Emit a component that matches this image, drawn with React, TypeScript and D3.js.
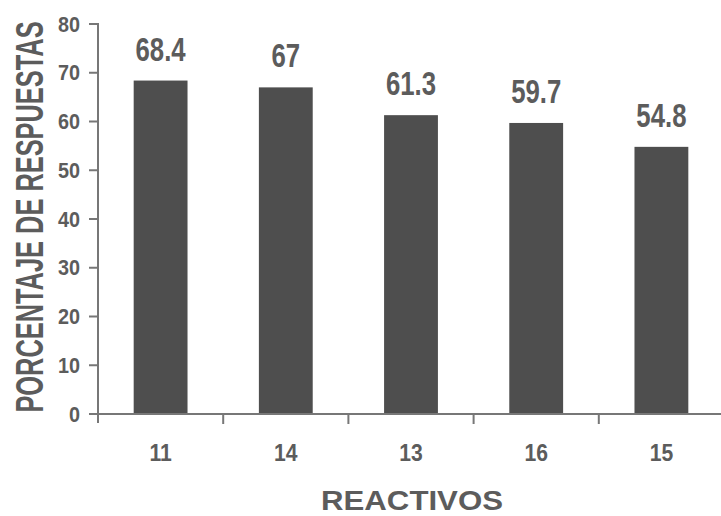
import React from "react";
import * as d3 from "d3";

const categories = ["11", "14", "13", "16", "15"];
const values = [68.4, 67, 61.3, 59.7, 54.8];
const valueLabels = ["68.4", "67", "61.3", "59.7", "54.8"];
const yTicks = [0, 10, 20, 30, 40, 50, 60, 70, 80];

const W = 721;
const H = 516;

export default function App() {
  const x = d3.scaleBand<string>().domain(categories).range([98, 724]).paddingInner(0.57).paddingOuter(0.285);
  const xb = d3.scaleBand<string>().domain(categories).range([98, 724]);
  const y = d3.scaleLinear().domain([0, 80]).range([414, 24]);
  const font = "'Liberation Sans', Arial, sans-serif";
  const textColor = "#5c5c5c";
  const axisColor = "#777";
  return (
    <svg width={W} height={H} style={{ position: "absolute", left: 0, top: 0, background: "#fff" }}>
      <rect width={W} height={H} fill="#fff" />
      {categories.map((c, i) => (
        <rect key={c} x={x(c)} y={y(values[i])} width={x.bandwidth()} height={y(0) - y(values[i])} fill="#4e4e4e" />
      ))}
      {categories.map((c, i) => {
        const cx = (x(c) as number) + x.bandwidth() / 2;
        return (
          <text key={c} transform={`translate(${cx},${y(values[i]) - 20}) scale(0.78,1)`} textAnchor="middle"
            fontFamily={font} fontWeight="bold" fontSize={33} fill={textColor}>
            {valueLabels[i]}
          </text>
        );
      })}
      <line x1={98} x2={98} y1={y(80) - 1} y2={y(0) + 9} stroke={axisColor} strokeWidth={2} />
      {yTicks.map((t) => (
        <g key={t}>
          <line x1={89} x2={98} y1={y(t)} y2={y(t)} stroke={axisColor} strokeWidth={2} />
          <text transform={`translate(80,${y(t) + 7.5}) scale(0.9,1)`} textAnchor="end" fontFamily={font} fontWeight="bold" fontSize={22} fill={textColor}>
            {t}
          </text>
        </g>
      ))}
      <line x1={98} x2={721} y1={y(0)} y2={y(0)} stroke={axisColor} strokeWidth={2} />
      {categories.slice(1).map((c) => (
        <line key={c} x1={xb(c)} x2={xb(c)} y1={y(0)} y2={y(0) + 10} stroke={axisColor} strokeWidth={2} />
      ))}
      {categories.map((c) => (
        <text key={c} transform={`translate(${(xb(c) as number) + xb.bandwidth() / 2},461) scale(0.88,1)`} textAnchor="middle"
          fontFamily={font} fontWeight="bold" fontSize={24} fill={textColor}>
          {c}
        </text>
      ))}
      <text x={412} y={510} textAnchor="middle" fontFamily={font} fontWeight="bold" fontSize={27} fill={textColor}
        textLength={182} lengthAdjust="spacingAndGlyphs">
        REACTIVOS
      </text>
      <text transform={`translate(43, 217) rotate(-90) scale(1, 1.53)`} textAnchor="middle" fontFamily={font}
        fontWeight="bold" fontSize={25.4} fill={textColor}>
        PORCENTAJE DE RESPUESTAS
      </text>
    </svg>
  );
}
